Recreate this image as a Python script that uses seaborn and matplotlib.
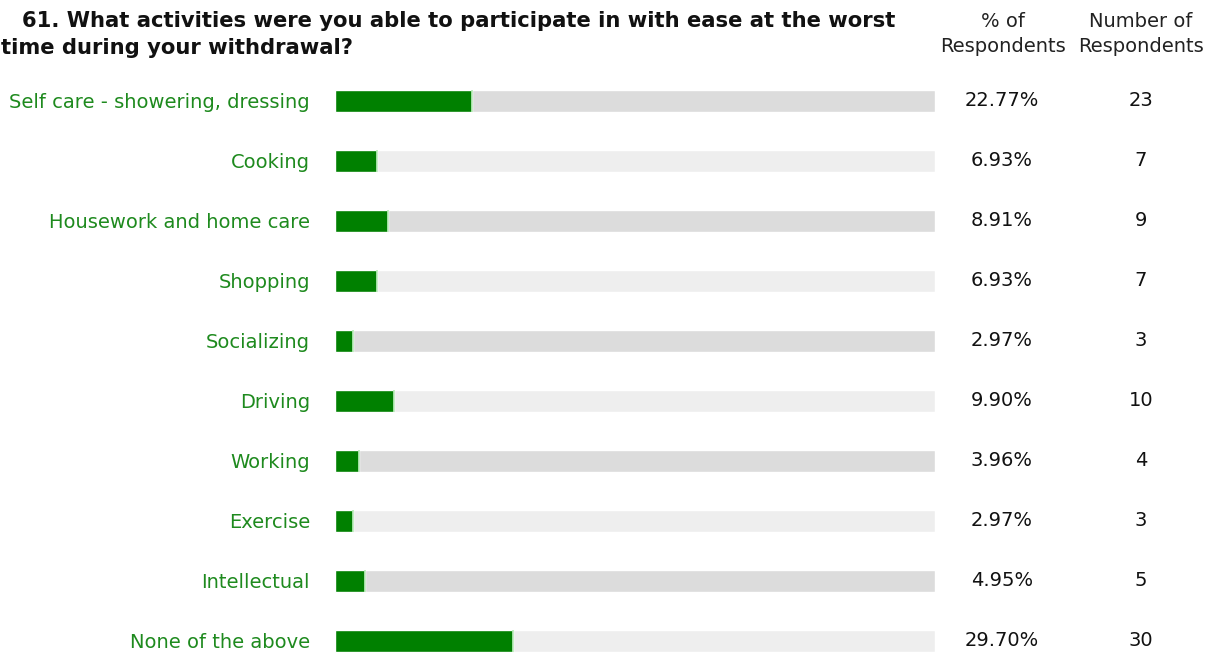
import matplotlib
matplotlib.use("Agg")
import matplotlib.pyplot as plt
import matplotlib.transforms as mtransforms
import seaborn as sns
import pandas as pd

categories = ["Self care - showering, dressing", "Cooking", "Housework and home care",
              "Shopping", "Socializing", "Driving", "Working", "Exercise",
              "Intellectual", "None of the above"]
percents = [22.77, 6.93, 8.91, 6.93, 2.97, 9.90, 3.96, 2.97, 4.95, 29.70]
counts = [23, 7, 9, 7, 3, 10, 4, 3, 5, 30]
title_line1 = "61. What activities were you able to participate in with ease at the worst"
title_line2 = "time during your withdrawal?"
col1_header = "% of\nRespondents"
col2_header = "Number of\nRespondents"

sns.set_theme(style="white")
plt.rcParams['font.family'] = ['DejaVu Sans']

df = pd.DataFrame({"cat": categories, "pct": percents, "full": [100] * len(categories)})

W, H = 1216, 657
fig = plt.figure(figsize=(W / 100, H / 100), dpi=100)
ax = fig.add_axes([335 / W, 0, 600 / W, (657 - 71) / H])

bg_colors = ["#dcdcdc" if i % 2 == 0 else "#eeeeee" for i in range(len(categories))]
sns.barplot(data=df, y="cat", x="full", hue="cat", palette=bg_colors, legend=False,
            orient="h", width=0.36, ax=ax, saturation=1)
sns.barplot(data=df, y="cat", x="pct", color="#008000", orient="h", width=0.36,
            ax=ax, saturation=1)
# light highlight at bar end
for i, p in enumerate(percents):
    ax.plot([p, p], [i - 0.18, i + 0.18], color="#b8ecb8", lw=1.2, solid_capstyle="butt")

ax.set_xlim(0, 100)
ax.set_ylim(9.267, -0.5)
for s in ax.spines.values():
    s.set_visible(False)
ax.set_xticks([])
ax.set_xlabel("")
ax.set_ylabel("")
ax.tick_params(axis="y", length=0, pad=18)
ax.set_yticks(range(len(categories)))
ax.set_yticklabels(categories, color="#1e8a1e", fontsize=14)

trans = mtransforms.blended_transform_factory(fig.transFigure, ax.transData)
for i, (p, c) in enumerate(zip(percents, counts)):
    ax.text(1002 / W, i, f"{p:.2f}%", transform=trans, ha="center", va="center",
            fontsize=14, color="#111111")
    ax.text(1141 / W, i, f"{c}", transform=trans, ha="center", va="center",
            fontsize=14, color="#111111")

fig.text(1003 / W, 1 - 34 / H, col1_header, ha="center", va="center", fontsize=14,
         color="#222222", linespacing=1.45)
fig.text(1141 / W, 1 - 34 / H, col2_header, ha="center", va="center", fontsize=14,
         color="#222222", linespacing=1.45)
fig.text(22 / W, 1 - 21 / H, title_line1, ha="left", va="center", fontsize=15.2,
         fontweight="bold", color="#111111")
fig.text(1 / W, 1 - 48 / H, title_line2, ha="left", va="center", fontsize=15.2,
         fontweight="bold", color="#111111")

fig.savefig("out.png", dpi=100)
